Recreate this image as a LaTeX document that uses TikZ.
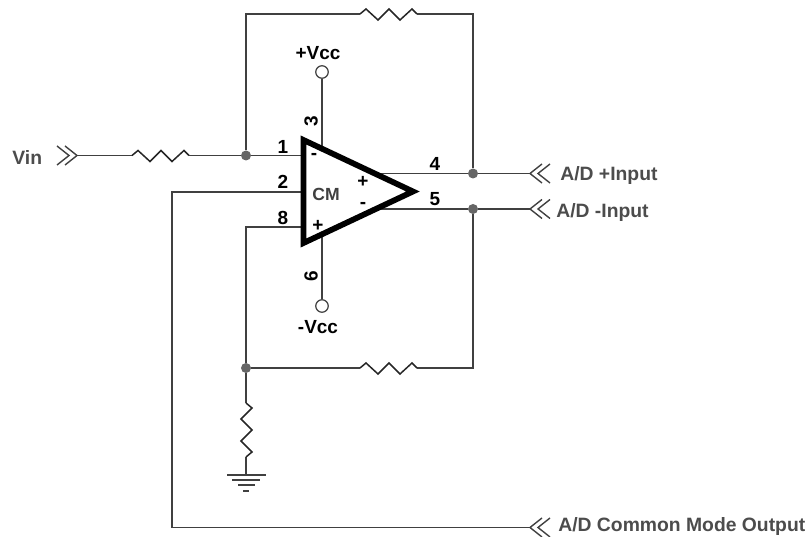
\documentclass[tikz,border=0pt]{standalone}
\usepackage{fontspec}
\setmainfont{Liberation Sans}
\usetikzlibrary{calc}
\definecolor{wire}{gray}{0.25}
\definecolor{lbl}{gray}{0.3}
\tikzset{
	wireline/.style={draw=wire, line width=0.32mm},
	pinlabel/.style={font=\bfseries\fontsize{10.8}{12}\selectfont, text=black, inner sep=0pt},
	siglabel/.style={font=\bfseries\fontsize{11}{12}\selectfont, text=lbl, inner sep=0pt},
	dotnode/.style={circle, fill=black!60, inner sep=0pt, minimum size=0.2cm},
	termnode/.style={circle, draw=wire, fill=white, line width=0.25mm, inner sep=0pt, minimum size=0.25cm},
}
\def\resistorh(#1,#2){\draw[line width=0.3mm, black!85] (#1,#2) -- ++(6,5) -- ++(12,-11) -- ++(11,11) -- ++(11,-11) -- ++(12,11) -- ++(5,-5);}
\def\chevrons(#1,#2)[#3]{\draw[line width=0.28mm, wire] (#1,#2) ++(#3*12,9.5) -- ++(-#3*12,-9.5) -- ++(#3*12,-9.5) (#1,#2) ++(#3*20,9.5) -- ++(-#3*12,-9.5) -- ++(#3*12,-9.5);}

\begin{document}
\begin{tikzpicture}[x=0.02cm, y=0.02cm]
			\useasboundingbox (0,0) rectangle (808,537);
			%%%%% NODES %%%%%
			\coordinate (vin) at (77,381.5);
			\coordinate (adplus) at (530,363.5);
			\coordinate (adminus) at (530,328);
			\coordinate (adcm) at (530,9.5);
			\coordinate (tl) at (246,523);
			\coordinate (tr) at (473,523);
			\coordinate (rtopl) at (360,523);
			\coordinate (rtopr) at (417,523);
			\coordinate (rfbl) at (360,169);
			\coordinate (rfbr) at (417,169);
			\coordinate (rinl) at (132,381.5);
			\coordinate (rinr) at (189,381.5);
			\coordinate (cmturn) at (172,345);
			\coordinate (cmbot) at (172,9.5);
			\coordinate (pin1) at (303,381.5);
			\coordinate (pin2) at (303,345);
			\coordinate (pin8) at (303,310);
			\coordinate (pin8l) at (246,310);
			\coordinate (pin3) at (322,390);
			\coordinate (pin6) at (322,300);
			\coordinate (out4) at (375,363.5);
			\coordinate (out5) at (375,328);
			\coordinate (br) at (473,169);
			\coordinate (rgtop) at (246,134);
			\coordinate (rgbot) at (246,80);
			\coordinate (gnd) at (246,62);
			\node[dotnode] (jin) at (246,381.5) {};
			\node[dotnode] (jplus) at (473,363.5) {};
			\node[dotnode] (jminus) at (473,328) {};
			\node[dotnode] (jfb) at (246,169) {};
			\node[termnode] (vccp) at (322,465) {};
			\node[termnode] (vccm) at (322,231) {};

			%%%%% WIRES %%%%%
			\draw[wireline] (vin) -- (rinl);
			\draw[wireline] (rinr) -- (jin) -- (pin1);
			\draw[wireline] (jin) -- (tl) -- (rtopl);
			\draw[wireline] (rtopr) -- (tr) -- (jplus);
			\draw[wireline] (out4) -- (jplus) -- (adplus);
			\draw[wireline] (out5) -- (jminus) -- (adminus);
			\draw[wireline] (jminus) -- (br) -- (rfbr);
			\draw[wireline] (rfbl) -- (jfb);
			\draw[wireline] (pin8) -- (pin8l) -- (jfb) -- (rgtop);
			\draw[wireline] (rgbot) -- (gnd);
			\draw[wireline] (pin2) -- (cmturn) -- (cmbot) -- (adcm);
			\draw[wireline] (vccp) -- (pin3);
			\draw[wireline] (vccm) -- (pin6);

			%%%%% RESISTORS %%%%%
			\resistorh(360,523)
			\resistorh(360,169)
			\resistorh(132,381.5)
			\draw[line width=0.3mm, black!85] (rgtop) -- ++(6,-5) -- ++(-11,-11) -- ++(11,-11) -- ++(-11,-11) -- ++(11,-11) -- (rgbot);

			%%%%% GROUND %%%%%
			\draw[line width=0.32mm, wire] (227,62) -- (266,62);
			\draw[line width=0.32mm, wire] (232,57) -- (260,57);
			\draw[line width=0.32mm, wire] (238,52) -- (255,52);
			\draw[line width=0.32mm, wire] (243,46) -- (249,46);

			%%%%% AMP %%%%%
			\draw[line width=1.15mm, black, fill=white] (303.5,397) -- (413,345.5) -- (303.5,294) -- cycle;
			\node[pinlabel, text=black!75, font=\bfseries\fontsize{10}{12}\selectfont] (cm) at (326,343) {CM};
			\node[pinlabel] (inm) at (314,381) {-};
			\node[pinlabel] (ocp) at (363,355) {+};
			\node[pinlabel] (ocm) at (363,332) {-};
			\node[pinlabel] (inp) at (318,311) {+};

			%%%%% CHEVRONS %%%%%
			\chevrons(77,381.5)[-1]
			\chevrons(530,363.5)[1]
			\chevrons(530,328)[1]
			\chevrons(530,9.5)[1]

			%%%%% LABELS %%%%%
			\node[pinlabel] (n1) at (283,390) {1};
			\node[pinlabel] (n2) at (283,355) {2};
			\node[pinlabel] (n8) at (283,319) {8};
			\node[pinlabel] (n4) at (435,373) {4};
			\node[pinlabel] (n5) at (435,338) {5};
			\node[pinlabel, rotate=90] (n3) at (311,416) {3};
			\node[pinlabel, rotate=90] (n6) at (311,261) {6};
			\node[pinlabel] (lvccp) at (318,484) {+Vcc};
			\node[pinlabel] (lvccm) at (318,210) {-Vcc};
			\node[siglabel, anchor=west] (lvin) at (12,379) {Vin};
			\node[siglabel, anchor=west] (lplus) at (560,361.5) {A/D +Input};
			\node[siglabel, anchor=west] (lminus) at (556,324.5) {A/D -Input};
			\node[siglabel, anchor=west] (lcm) at (558,10.5) {A/D Common Mode Output};
		\end{tikzpicture}
\end{document}
